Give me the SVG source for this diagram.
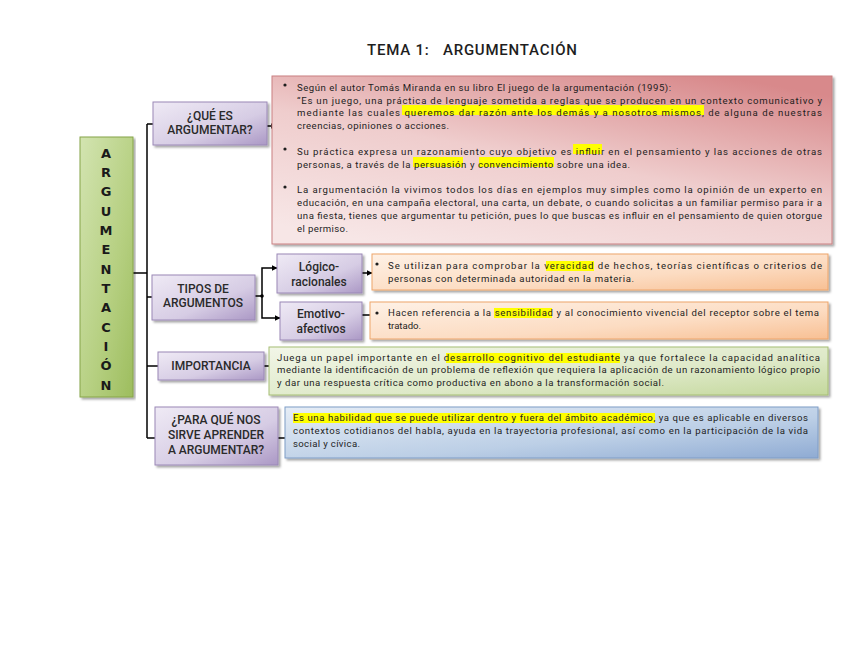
<svg xmlns="http://www.w3.org/2000/svg" width="848" height="655" viewBox="0 0 848 655">
<defs>
<linearGradient id="gPurple" x1="0" y1="0" x2="1" y2="1"><stop offset="0" stop-color="#efeaf5"/><stop offset="0.6" stop-color="#d6cce4"/><stop offset="1" stop-color="#ab98c5"/></linearGradient>
<linearGradient id="gPink" x1="0.2" y1="1" x2="0.8" y2="0"><stop offset="0" stop-color="#f7e6e6"/><stop offset="0.5" stop-color="#efcdcd"/><stop offset="1" stop-color="#d8898b"/></linearGradient>
<linearGradient id="gOrange" x1="0" y1="0" x2="1" y2="1"><stop offset="0" stop-color="#fef1e6"/><stop offset="0.6" stop-color="#fcdcc2"/><stop offset="1" stop-color="#f8c094"/></linearGradient>
<linearGradient id="gGreenBig" x1="0" y1="0" x2="1" y2="1"><stop offset="0" stop-color="#d3e4b1"/><stop offset="0.6" stop-color="#b5cf80"/><stop offset="1" stop-color="#9dbd5e"/></linearGradient>
<linearGradient id="gGreen" x1="0" y1="0" x2="1" y2="1"><stop offset="0" stop-color="#f2f6e8"/><stop offset="0.6" stop-color="#dee9c8"/><stop offset="1" stop-color="#c4d89c"/></linearGradient>
<linearGradient id="gBlue" x1="0" y1="0" x2="1" y2="1"><stop offset="0" stop-color="#e6edf6"/><stop offset="0.6" stop-color="#bccfe6"/><stop offset="1" stop-color="#8fabd3"/></linearGradient>
<filter id="sh" x="-5%" y="-5%" width="110%" height="120%"><feDropShadow dx="2" dy="2" stdDeviation="1" flood-color="#000" flood-opacity="0.35"/></filter>
<marker id="arr" viewBox="0 0 10 10" refX="9" refY="5" markerWidth="4" markerHeight="4" orient="auto"><path d="M0,0 L10,5 L0,10 z" fill="#000"/></marker>
<style>
.box{filter:url(#sh);stroke-width:1}
.purple{fill:url(#gPurple);stroke:#9a88b6}
.lbl{font-family:"Roboto","DejaVu Sans",sans-serif;font-size:12px;font-weight:500;fill:#2a2a2a;text-anchor:middle}
.body{font-family:"Roboto","DejaVu Sans",sans-serif;font-size:9.6px;fill:#1e1e1e}
.hl{fill:#ffff00}
.con{stroke:#000;stroke-width:1.5;fill:none}
.vert{font-family:"DejaVu Sans","Roboto",sans-serif;font-size:13px;font-weight:bold;fill:#1a1a1a;text-anchor:middle}
</style>
</defs>
<rect width="848" height="655" fill="#fff"/>
<text x="367" y="55" xml:space="preserve" font-family="Roboto, DejaVu Sans, sans-serif" font-size="15" font-weight="500" fill="#1e1e1e" textLength="210" lengthAdjust="spacing">TEMA 1:   ARGUMENTACIÓN</text>

<g id="connectors">
<line class="con" x1="133" y1="273" x2="147" y2="273"/>
<line class="con" x1="147" y1="124" x2="147" y2="438"/>
<line class="con" x1="147" y1="124" x2="153" y2="124"/>
<line class="con" x1="147" y1="297" x2="152" y2="297"/>
<line class="con" x1="147" y1="366" x2="158" y2="366"/>
<line class="con" x1="147" y1="438" x2="155" y2="438"/>
<line class="con" x1="267" y1="126" x2="276" y2="126" marker-end="url(#arr)"/>
<line class="con" x1="255" y1="296" x2="262" y2="296"/>
<circle cx="262" cy="296" r="1.8" fill="#000"/>
<polyline class="con" points="262,296 262,268 277,268" marker-end="url(#arr)"/>
<polyline class="con" points="262,296 262,318 280,318" marker-end="url(#arr)"/>
<line class="con" x1="362" y1="273" x2="372" y2="273" marker-end="url(#arr)"/>
<line class="con" x1="362" y1="315" x2="371" y2="315"/>
<line class="con" x1="264" y1="366" x2="269" y2="366"/>
<line class="con" x1="278" y1="438" x2="285" y2="438"/>
</g>

<g id="argumentacion">
<rect class="box" x="80" y="137" width="53" height="260" fill="url(#gGreenBig)" stroke="#86a448"/>
<text class="vert" x="106" y="158">A</text>
<text class="vert" x="106" y="177">R</text>
<text class="vert" x="106" y="196">G</text>
<text class="vert" x="106" y="216">U</text>
<text class="vert" x="106" y="235">M</text>
<text class="vert" x="106" y="254">E</text>
<text class="vert" x="106" y="274">N</text>
<text class="vert" x="106" y="293">T</text>
<text class="vert" x="106" y="312">A</text>
<text class="vert" x="106" y="332">C</text>
<text class="vert" x="106" y="351">I</text>
<text class="vert" x="106" y="370">Ó</text>
<text class="vert" x="106" y="390">N</text>
</g>

<g id="que-es">
<rect class="box purple" x="153" y="102" width="114" height="43"/>
<text class="lbl" x="210" y="120">¿QUÉ ES</text>
<text class="lbl" x="210" y="134">ARGUMENTAR?</text>
</g>

<g id="tipos">
<rect class="box purple" x="152" y="275" width="103" height="45"/>
<text class="lbl" x="203" y="293">TIPOS DE</text>
<text class="lbl" x="203" y="307">ARGUMENTOS</text>
</g>

<g id="importancia">
<rect class="box purple" x="158" y="352" width="106" height="28"/>
<text class="lbl" x="211" y="370">IMPORTANCIA</text>
</g>

<g id="para-que">
<rect class="box purple" x="155" y="407" width="123" height="58"/>
<text class="lbl" x="216" y="424">¿PARA QUÉ NOS</text>
<text class="lbl" x="216" y="439">SIRVE APRENDER</text>
<text class="lbl" x="216" y="454">A ARGUMENTAR?</text>
</g>

<g id="logico">
<rect class="box purple" x="277" y="254" width="85" height="39"/>
<text class="lbl" x="319" y="271">Lógico-</text>
<text class="lbl" x="319" y="286">racionales</text>
</g>

<g id="emotivo">
<rect class="box purple" x="280" y="302" width="82" height="38"/>
<text class="lbl" x="321" y="318">Emotivo-</text>
<text class="lbl" x="321" y="333">afectivos</text>
</g>

<g id="definicion">
<rect class="box" x="272" y="76" width="560" height="168" fill="url(#gPink)" stroke="#c98082"/>
<rect class="hl" x="402" y="105" width="302" height="10"/>
<rect class="hl" x="573" y="144" width="29" height="10"/>
<rect class="hl" x="413" y="157" width="50" height="10"/>
<rect class="hl" x="479" y="157" width="75" height="10"/>
<circle cx="285" cy="85" r="1.6" fill="#1e1e1e"/>
<circle cx="285" cy="149" r="1.6" fill="#1e1e1e"/>
<circle cx="285" cy="187" r="1.6" fill="#1e1e1e"/>
<text class="body" x="297" y="91" textLength="374" lengthAdjust="spacing">Según el autor Tomás Miranda en su libro El juego de la argumentación (1995):</text>
<text class="body" x="297" y="104" textLength="525" lengthAdjust="spacing">“Es un juego, una práctica de lenguaje sometida a reglas que se producen en un contexto comunicativo y</text>
<text class="body" x="297" y="116" textLength="525" lengthAdjust="spacing">mediante las cuales queremos dar razón ante los demás y a nosotros mismos, de alguna de nuestras</text>
<text class="body" x="297" y="129" textLength="152" lengthAdjust="spacing">creencias, opiniones o acciones.</text>
<text class="body" x="297" y="155" textLength="525" lengthAdjust="spacing">Su práctica expresa un razonamiento cuyo objetivo es influir en el pensamiento y las acciones de otras</text>
<text class="body" x="297" y="168" textLength="333" lengthAdjust="spacing">personas, a través de la persuasión y convencimiento sobre una idea.</text>
<text class="body" x="297" y="193" textLength="525" lengthAdjust="spacing">La argumentación la vivimos todos los días en ejemplos muy simples como la opinión de un experto en</text>
<text class="body" x="297" y="206" textLength="525" lengthAdjust="spacing">educación, en una campaña electoral, una carta, un debate, o cuando solicitas a un familiar permiso para ir a</text>
<text class="body" x="297" y="219" textLength="525" lengthAdjust="spacing">una fiesta, tienes que argumentar tu petición, pues lo que buscas es influir en el pensamiento de quien otorgue</text>
<text class="body" x="297" y="232" textLength="51" lengthAdjust="spacing">el permiso.</text>
</g>

<g id="logico-texto">
<rect class="box" x="372" y="254" width="456" height="36" fill="url(#gOrange)" stroke="#eea56a"/>
<rect class="hl" x="546" y="261" width="48" height="10"/>
<circle cx="377" cy="264" r="1.6" fill="#1e1e1e"/>
<text class="body" x="388" y="269" textLength="434" lengthAdjust="spacing">Se utilizan para comprobar la veracidad de hechos, teorías científicas o criterios de</text>
<text class="body" x="388" y="282" textLength="246" lengthAdjust="spacing">personas con determinada autoridad en la materia.</text>
</g>

<g id="emotivo-texto">
<rect class="box" x="370" y="302" width="458" height="37" fill="url(#gOrange)" stroke="#eea56a"/>
<rect class="hl" x="494" y="308" width="58" height="10"/>
<circle cx="377" cy="313" r="1.6" fill="#1e1e1e"/>
<text class="body" x="388" y="316" textLength="431" lengthAdjust="spacing">Hacen referencia a la sensibilidad y al conocimiento vivencial del receptor sobre el tema</text>
<text class="body" x="388" y="329" textLength="33" lengthAdjust="spacing">tratado.</text>
</g>

<g id="importancia-texto">
<rect class="box" x="269" y="347" width="559" height="48" fill="url(#gGreen)" stroke="#a6be74"/>
<rect class="hl" x="446" y="353" width="174" height="10"/>
<text class="body" x="277" y="361" textLength="543" lengthAdjust="spacing">Juega un papel importante en el desarrollo cognitivo del estudiante ya que fortalece la capacidad analítica</text>
<text class="body" x="277" y="373" textLength="543" lengthAdjust="spacing">mediante la identificación de un problema de reflexión que requiera la aplicación de un razonamiento lógico propio</text>
<text class="body" x="277" y="386" textLength="387" lengthAdjust="spacing">y dar una respuesta crítica como productiva en abono a la transformación social.</text>
</g>

<g id="para-que-texto">
<rect class="box" x="285" y="407" width="533" height="51" fill="url(#gBlue)" stroke="#7f9dc6"/>
<rect class="hl" x="293" y="413" width="362" height="10"/>
<text class="body" x="293" y="421" textLength="515" lengthAdjust="spacing">Es una habilidad que se puede utilizar dentro y fuera del ámbito académico, ya que es aplicable en diversos</text>
<text class="body" x="293" y="434" textLength="515" lengthAdjust="spacing">contextos cotidianos del habla, ayuda en la trayectoria profesional, así como en la participación de la vida</text>
<text class="body" x="293" y="447" textLength="67" lengthAdjust="spacing">social y cívica.</text>
</g>
</svg>
